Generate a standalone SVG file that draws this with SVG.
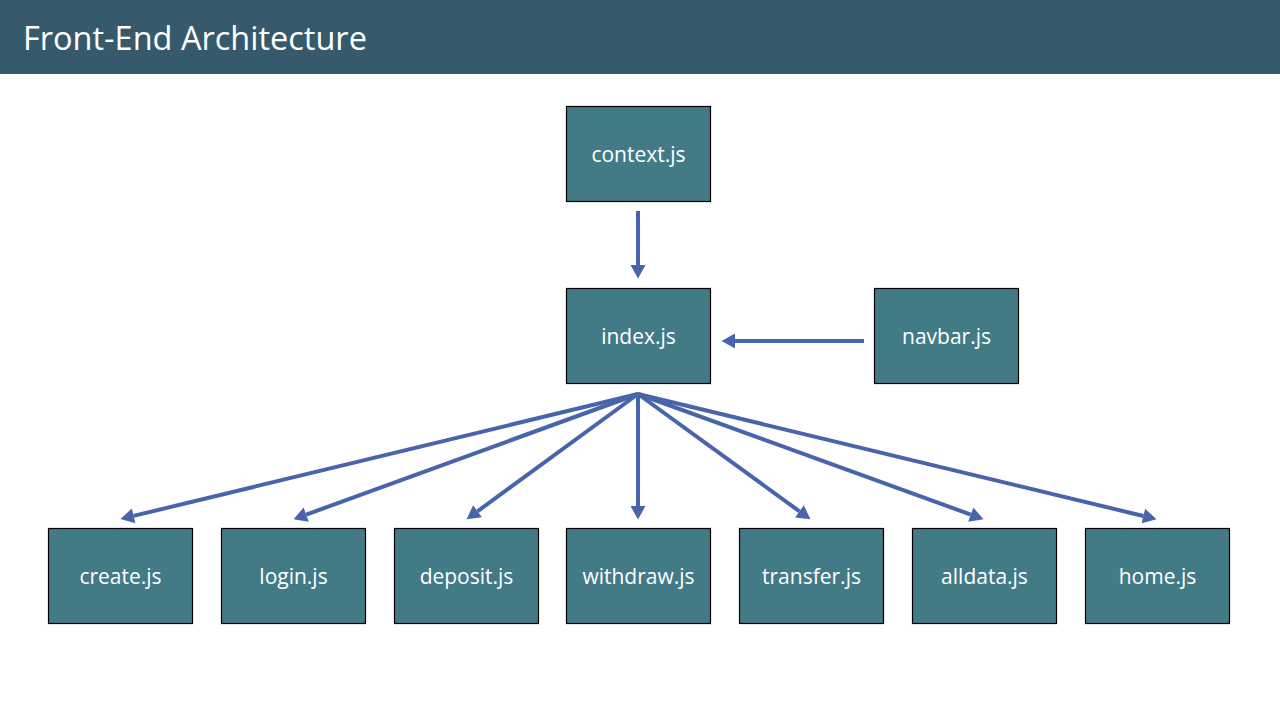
<svg xmlns="http://www.w3.org/2000/svg" width="1280" height="720" viewBox="0 0 1280 720">
<style>
.node rect{fill:#427B85;stroke:#000;stroke-width:1.2}
.node text{fill:#fff;font-family:"Open Sans","Noto Sans",sans-serif;font-size:21px;text-anchor:middle;dominant-baseline:central}
.conn line{stroke:#4864AB;stroke-width:4;fill:none}
</style>
<defs>
<marker id="ah" markerUnits="userSpaceOnUse" markerWidth="14" markerHeight="16" refX="0" refY="8" orient="auto" overflow="visible">
<path d="M0,0.5 L13.5,8 L0,15.5 z" fill="#4864AB"/>
</marker>
</defs>
<rect x="0" y="0" width="1280" height="74" fill="#365A6B"/>
<text x="23" y="50" font-family="Open Sans,Noto Sans,sans-serif" font-size="32.5" fill="#fff">Front-End Architecture</text>
<g class="conn">
<line x1="638" y1="211" x2="638" y2="265" marker-end="url(#ah)"/>
<line x1="864" y1="341" x2="735" y2="341" marker-end="url(#ah)"/>
<line x1="638" y1="394" x2="133.6" y2="515.9" marker-end="url(#ah)"/>
<line x1="638" y1="394" x2="306.2" y2="514.6" marker-end="url(#ah)"/>
<line x1="638" y1="394" x2="477.5" y2="511.3" marker-end="url(#ah)"/>
<line x1="638" y1="394" x2="638" y2="506" marker-end="url(#ah)"/>
<line x1="638" y1="394" x2="799.5" y2="511.4" marker-end="url(#ah)"/>
<line x1="638" y1="394" x2="970.8" y2="514.6" marker-end="url(#ah)"/>
<line x1="638" y1="394" x2="1143.4" y2="516" marker-end="url(#ah)"/>
</g>
<g id="context" class="node"><rect x="566.5" y="106.5" width="144" height="95"/><text x="638.5" y="154">context.js</text></g>
<g id="index" class="node"><rect x="566.5" y="288.5" width="144" height="95"/><text x="638.5" y="336">index.js</text></g>
<g id="navbar" class="node"><rect x="874.5" y="288.5" width="144" height="95"/><text x="946.5" y="336">navbar.js</text></g>
<g id="create" class="node"><rect x="48.5" y="528.5" width="144" height="95"/><text x="120.5" y="576">create.js</text></g>
<g id="login" class="node"><rect x="221.5" y="528.5" width="144" height="95"/><text x="293.5" y="576">login.js</text></g>
<g id="deposit" class="node"><rect x="394.5" y="528.5" width="144" height="95"/><text x="466.5" y="576">deposit.js</text></g>
<g id="withdraw" class="node"><rect x="566.5" y="528.5" width="144" height="95"/><text x="638.5" y="576">withdraw.js</text></g>
<g id="transfer" class="node"><rect x="739.5" y="528.5" width="144" height="95"/><text x="811.5" y="576">transfer.js</text></g>
<g id="alldata" class="node"><rect x="912.5" y="528.5" width="144" height="95"/><text x="984.5" y="576">alldata.js</text></g>
<g id="home" class="node"><rect x="1085.5" y="528.5" width="144" height="95"/><text x="1157.5" y="576">home.js</text></g>
</svg>
